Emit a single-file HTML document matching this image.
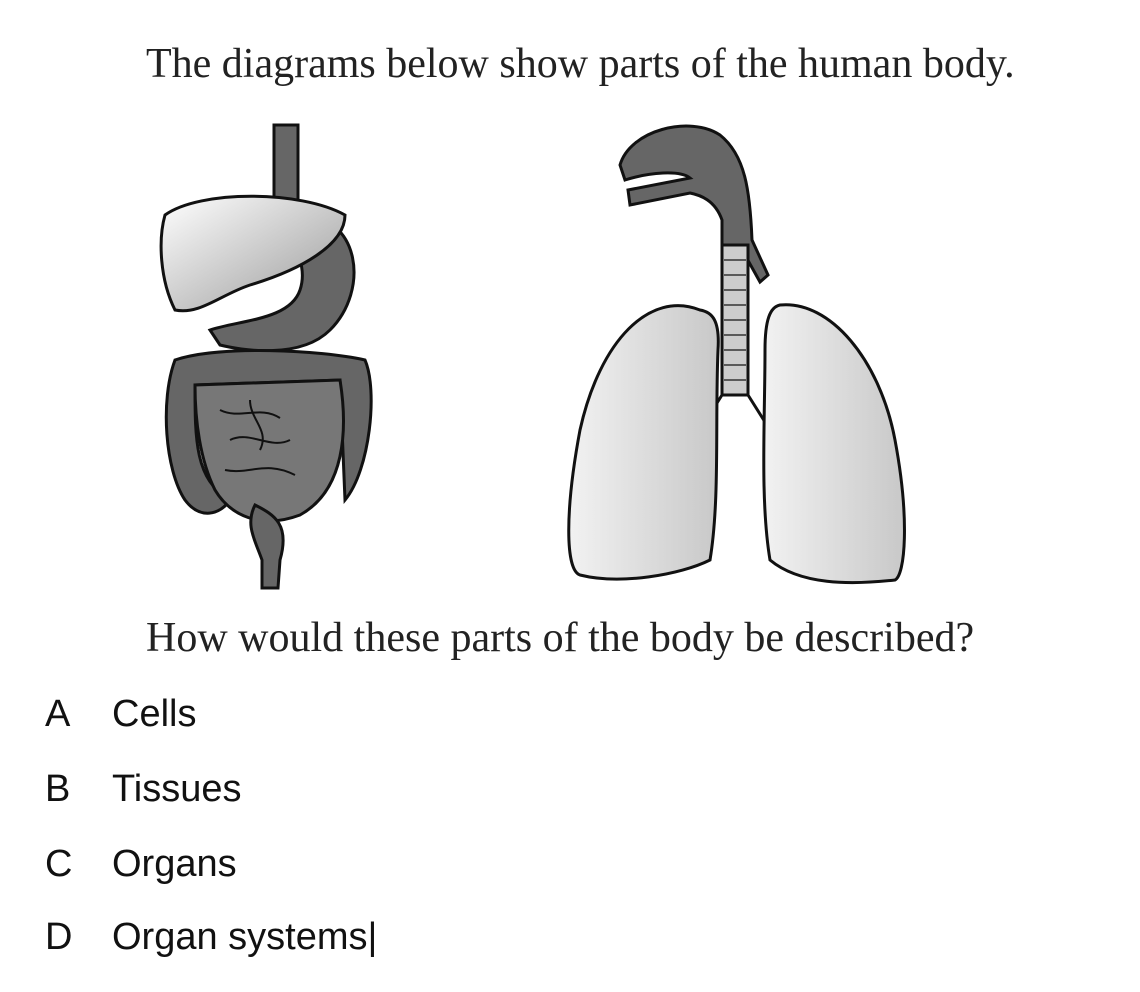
<!DOCTYPE html>
<html><head><style>
body{margin:0;background:#fff;width:1140px;height:992px;position:relative;overflow:hidden}
.s{position:absolute;font-family:"Liberation Serif",serif;font-size:42px;color:#222;white-space:nowrap}
.o{position:absolute;font-family:"Liberation Sans",sans-serif;font-size:38px;color:#111;white-space:nowrap}
</style></head><body>
<div class="s" style="left:146px;top:40px">The diagrams below show parts of the human body.</div>
<svg style="position:absolute;left:0;top:0" width="1140" height="992">
<defs>
<linearGradient id="g1" x1="0" y1="0" x2="1" y2="1"><stop offset="0" stop-color="#fff"/><stop offset="1" stop-color="#999"/></linearGradient>
<linearGradient id="g2" x1="0" y1="0" x2="1" y2="0"><stop offset="0" stop-color="#f2f2f2"/><stop offset="1" stop-color="#c8c8c8"/></linearGradient>
</defs>
<g stroke="#111" stroke-width="3">
<rect x="274" y="125" width="24" height="90" fill="#666"/>
<path d="M300 215 C360 215 370 290 330 330 C300 360 240 350 220 345 L210 330 C240 320 290 320 300 290 C310 260 285 240 290 215 Z" fill="#666"/>
<path d="M165 215 C200 190 300 190 345 215 C345 245 300 270 250 285 C220 295 200 315 175 310 C160 280 158 240 165 215 Z" fill="url(#g1)"/>
<path d="M175 360 C220 345 320 350 365 360 C378 390 370 470 345 500 L340 380 L195 385 C195 440 195 480 230 500 C220 515 200 520 185 500 C165 470 160 400 175 360 Z" fill="#666"/>
<path d="M195 385 L340 380 C348 430 345 490 300 515 C260 530 230 515 215 490 C200 460 195 420 195 385 Z" fill="#777"/>
<path d="M220 410 c20 10 40-5 60 8 M230 440 c20-10 40 10 60 0 M225 470 c25 5 40-10 70 5 M250 400 c0 20 20 30 10 50" fill="none" stroke-width="2"/>
<path d="M255 505 C275 515 290 525 280 560 L278 588 L262 588 L262 560 C255 540 245 525 255 505 Z" fill="#666"/>
<path d="M620 165 C630 130 690 115 720 135 C745 155 750 190 752 240 L768 275 L760 282 L745 255 L745 300 L722 300 L722 220 C715 200 700 195 690 193 L630 205 L628 190 L690 178 C680 170 650 172 625 180 Z" fill="#666"/>
<rect x="722" y="245" width="26" height="150" fill="#ccc"/>
<path d="M722 395 L700 430 M748 395 L770 430" fill="none"/>
<path d="M700 310 C650 290 600 340 580 430 C565 510 565 570 580 575 C620 585 680 575 710 560 C720 500 715 420 718 350 C720 320 712 312 700 310 Z" fill="url(#g2)"/>
<path d="M780 305 C830 300 880 360 895 440 C910 520 905 575 895 580 C850 585 800 585 770 560 C760 500 765 420 765 350 C765 320 770 307 780 305 Z" fill="url(#g2)"/>
</g>
<g stroke="#333" stroke-width="1.5">
<path d="M724 260h22M724 275h22M724 290h22M724 305h22M724 320h22M724 335h22M724 350h22M724 365h22M724 380h22"/>
</g>
</svg>
<div class="s" style="left:146px;top:614px">How would these parts of the body be described?</div>
<div class="o" style="left:45px;top:693px">A</div><div class="o" style="left:112px;top:693px">Cells</div>
<div class="o" style="left:45px;top:768px">B</div><div class="o" style="left:112px;top:768px">Tissues</div>
<div class="o" style="left:45px;top:843px">C</div><div class="o" style="left:112px;top:843px">Organs</div>
<div class="o" style="left:45px;top:916px">D</div><div class="o" style="left:112px;top:916px">Organ systems|</div>
</body></html>
